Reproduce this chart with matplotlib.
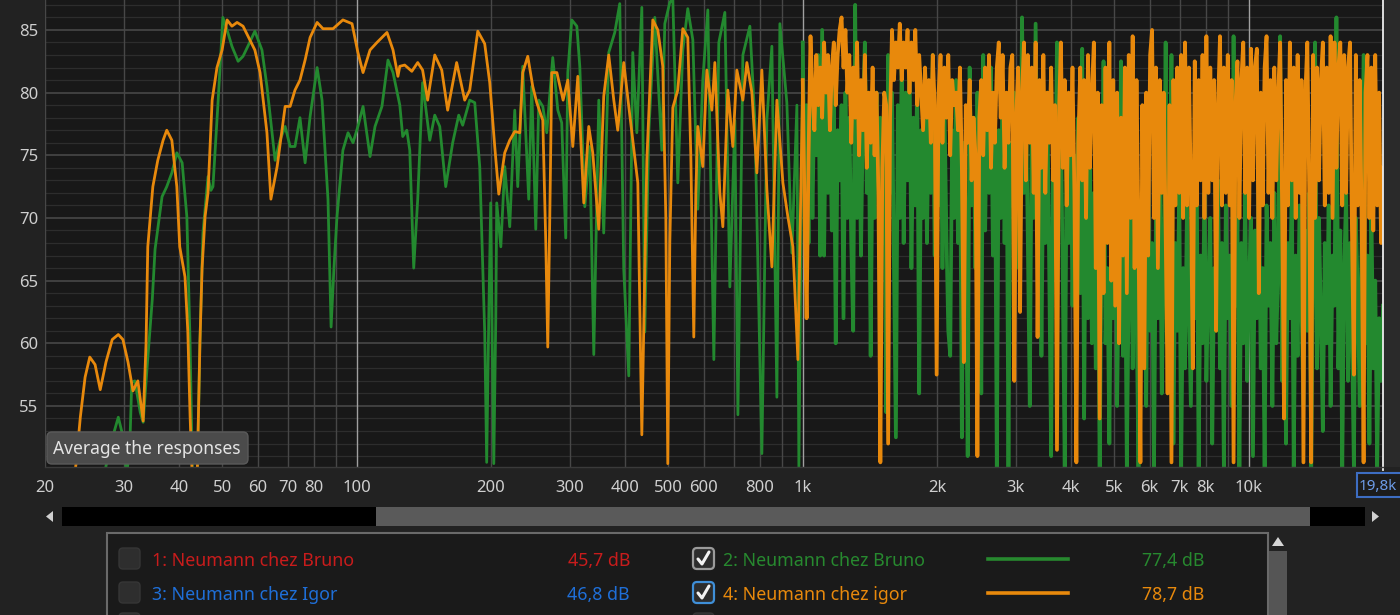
import numpy as np
import matplotlib
matplotlib.use('Agg')
import matplotlib.pyplot as plt
from matplotlib.patches import FancyBboxPatch, Rectangle, Polygon

plt.rcParams['font.family'] = ['Noto Sans', 'DejaVu Sans']

# ---------------- data ----------------
orange_low_freq = [23.0, 23.5, 24.0, 24.6, 25.2, 25.9, 26.6, 27.4, 28.3, 29.2, 29.9, 30.7, 31.5, 32.3, 33.2,
                   33.7, 34.0, 34.9, 35.8, 36.8, 37.5, 38.5, 39.5, 40.1, 41.2, 41.8, 42.3, 42.7, 42.9,
                   43.8, 44.5, 45.0, 45.7, 46.4, 47.4, 48.6, 49.9, 51.2, 52.5, 53.9, 55.6, 57.6, 59.1,
                   60.7, 61.9, 62.9, 64.2, 66.3, 69.1, 70.9, 72.7, 74.6, 76.6, 78.6, 81.5, 84.0, 88.5,
                   93.1, 97.6, 100.6, 103.3, 107.1, 111.0, 116.9, 120.6, 123.7,
                   124.9, 128.1, 132.9, 137.0, 140.5, 144.2, 149.6, 155.1, 159.9, 167.5, 174.6, 179.2,
                   186.8, 193.6, 198.7, 203.9, 208.2, 214.7, 220.3, 226.1, 232.0, 235.6, 241.8, 248.1,
                   253.3, 261.3, 265.4, 268.1, 270.9, 273.7, 281.0, 290.2, 297.3, 305.1, 313.1, 322.9,
                   331.3, 338.2, 348.9, 357.9, 367.3, 377.0, 384.8, 396.9, 407.3, 415.8, 426.8, 435.7,
                   447.1, 461.1, 473.2, 485.5, 493.2, 498.2, 503.4, 511.3, 524.6, 538.4, 552.4, 561.1,
                   569.8, 575.8, 581.7, 596.9, 609.5, 625.5, 635.2, 651.8, 662.0, 679.3, 697.0, 711.6,
                   734.1, 749.4, 769.1, 789.1, 809.7, 830.9, 852.7, 875.0, 902.6, 926.1, 950.4, 975.3]
orange_low_db = [48.0, 50.5, 54.1, 57.3, 58.9, 58.3, 56.3, 58.5, 60.3, 60.7, 60.3, 58.5, 56.2, 57.0, 53.8,
                 60.0, 67.7, 72.5, 74.6, 76.2, 77.0, 76.2, 72.5, 67.7, 65.3, 61.0, 54.2, 50.0, 48.0,
                 48.0, 60.0, 66.0, 70.1, 72.0, 79.4, 82.0, 83.4, 85.8, 85.3, 85.6, 85.3, 84.2, 83.4,
                 81.6, 79.0, 76.8, 71.5, 74.1, 78.9, 78.9, 80.2, 81.0, 82.6, 84.4, 85.6, 85.1, 85.1,
                 85.8, 85.5, 83.2, 81.6, 83.4, 84.0, 84.8, 83.4, 81.3,
                 82.1, 82.2, 81.7, 82.4, 81.8, 79.4, 83.0, 81.8, 78.6, 82.4, 79.4, 80.2,
                 84.9, 83.9, 80.8, 75.7, 71.9, 75.2, 76.2, 76.9, 76.8, 81.6, 82.9, 80.5,
                 79.2, 77.8, 68.0, 59.7, 70.0, 81.6, 81.6, 79.4, 81.0, 75.7, 81.3, 71.2,
                 77.3, 75.2, 69.1, 79.7, 83.0, 79.4, 77.0, 82.4, 78.9, 76.2, 72.8, 52.7,
                 74.6, 85.8, 85.0, 82.1, 70.0, 50.4, 68.0, 78.8, 80.2, 85.1, 84.4, 75.0,
                 60.5, 72.0, 77.3, 74.1, 81.8, 78.6, 82.4, 72.0, 69.3, 80.2, 75.7, 81.8,
                 79.4, 82.4, 80.0, 73.6, 81.8, 72.3, 66.1, 79.4, 72.8, 70.1, 67.7, 58.7]

green_low_freq = [21.1, 26.6, 27.7, 28.4, 29.2, 29.9, 30.5, 31.0, 31.3, 31.8, 32.7, 33.2, 33.9, 34.8, 35.3,
                  35.7, 36.6, 37.5, 38.5, 39.5, 40.6, 41.6, 42.3, 42.9, 43.8, 44.5, 45.2, 46.4, 47.1,
                  47.6, 48.9, 50.1, 51.4, 52.5, 54.2, 55.6, 57.0, 59.1, 61.3, 62.9, 64.6, 65.6, 67.3,
                  69.1, 70.9, 72.7, 74.6, 76.6, 78.6, 81.5, 83.6, 86.2, 87.6, 88.9, 90.3, 93.1, 95.6,
                  98.1, 100.6, 103.3, 107.1, 109.9, 113.9, 117.5, 120.6,
                  124.9, 126.8, 129.5, 131.5, 134.2, 137.0, 140.5, 145.8, 149.6, 153.5, 158.3, 164.1,
                  169.3, 172.8, 179.2, 183.9, 188.7, 193.6, 195.6, 197.7, 199.7, 201.3, 202.9, 205.0,
                  206.0, 210.4, 214.7, 220.3, 226.1, 229.6, 235.6, 243.0, 246.8, 252.0, 256.0, 261.3,
                  266.7, 275.1, 282.4, 288.1, 294.2, 297.3, 303.5, 311.5, 316.3, 321.3, 324.6, 333.0,
                  340.0, 348.9, 357.9, 367.3, 378.9, 388.8, 396.9, 407.3, 415.8, 424.6, 435.7, 442.4,
                  451.6, 465.9, 483.1, 490.6, 503.4, 511.3, 524.6, 538.4, 552.4, 567.0, 581.7, 596.9,
                  612.6, 631.9, 648.4, 668.9, 686.4, 704.3, 715.5, 734.1, 761.1, 781.0, 809.7, 830.9,
                  852.7, 875.0, 888.7, 921.2, 945.5, 970.3, 980.3]
green_low_db = [46.0, 48.0, 51.0, 52.6, 54.1, 52.6, 49.5, 52.0, 56.9, 57.0, 54.5, 53.7, 58.2, 63.5, 67.5,
                68.8, 71.7, 72.5, 73.6, 75.2, 74.4, 70.1, 60.0, 48.0, 48.0, 60.0, 68.8, 73.3, 72.2,
                72.5, 79.4, 86.0, 84.8, 83.7, 82.5, 82.9, 83.7, 84.9, 83.4, 80.5, 76.8, 74.6, 76.2,
                77.3, 75.7, 75.7, 78.0, 74.4, 78.1, 82.0, 79.4, 71.5, 61.3, 66.0, 70.1, 75.4, 76.8,
                76.0, 77.3, 78.9, 74.9, 77.3, 78.9, 82.6, 81.6,
                79.0, 76.5, 77.0, 75.4, 66.0, 71.5, 80.8, 76.2, 78.2, 77.3, 72.5, 76.0,
                78.2, 77.4, 79.4, 79.2, 74.1, 60.9, 50.5, 62.0, 71.2, 60.0, 50.4, 62.0,
                71.2, 67.7, 74.1, 69.3, 78.6, 72.5, 82.1, 71.5, 80.5, 69.1, 79.4, 78.9,
                76.8, 82.8, 78.6, 77.6, 68.4, 81.6, 85.8, 85.3, 82.1, 75.4, 70.9, 75.7,
                59.1, 79.4, 68.8, 83.2, 84.8, 87.1, 65.9, 57.4, 83.2, 76.8, 86.8, 60.9,
                76.8, 86.0, 75.4, 85.5, 87.2, 87.5, 72.8, 83.4, 86.7, 84.2, 70.7, 81.0,
                86.6, 58.7, 84.0, 86.4, 64.5, 77.8, 54.3, 83.0, 85.3, 77.8, 51.2, 77.8,
                83.7, 55.7, 85.5, 79.2, 67.2, 79.0, 50.0]

# dense high-frequency part, on a log-spaced frequency grid 1 kHz .. 20 kHz
hf_freq = np.geomspace(1000, 20000, 300)
orange_hf_db = [
    81, 70, 62, 75, 84.5, 80, 77, 83, 79, 82,
    78, 84, 80, 83, 77, 82, 84, 79, 83, 85,
    86, 82, 85, 80, 83, 76, 82, 78, 84, 75,
    81, 77, 83, 74, 80, 76, 82, 75, 80, 72,
    50.5, 74, 80, 79, 52, 78, 85, 81, 84, 82,
    85.5, 81, 84, 82, 85, 80, 84, 81, 85, 79,
    83, 80, 77, 82, 78, 81, 76, 83, 79, 57.5,
    80, 83, 76, 82, 78, 83, 75, 81, 79, 80,
    77, 82, 74, 58.5, 79, 76, 81, 73, 78, 75,
    51, 78, 81, 75, 82, 77, 83, 74, 80, 76,
    82, 84, 78, 83, 74, 80, 76, 82, 83, 57,
    78, 82, 62.5, 80, 84, 73, 83, 76, 82, 72,
    84, 60.5, 81, 74, 83, 72, 80, 76, 82, 73,
    79, 51.5, 78, 84, 74, 81, 71, 80, 75, 82,
    72, 50.5, 76, 82, 73, 81, 70, 83, 74, 80,
    84, 66, 80, 54, 79, 64, 82, 68, 84, 65,
    81, 63, 80, 60, 78, 67, 82, 64, 83, 70,
    84.5, 66, 81, 69, 50.5, 79, 58, 80, 67, 83,
    85, 70, 82, 66, 81, 72, 80, 69, 56, 79,
    50.5, 81, 71, 82, 72, 83, 70, 84, 71, 82,
    72, 58, 82.5, 71, 81, 73, 83, 70, 84.5, 72,
    82, 73, 81, 61, 79, 84.5, 71, 82, 72, 83,
    71, 81, 50.5, 79, 82.5, 70, 81, 84, 72, 82,
    70, 83.5, 73, 82, 83.5, 64, 80, 71, 82, 84.5,
    72, 81, 70, 82, 73, 80, 84, 71, 54, 81,
    71, 84, 73, 82, 70, 83, 72, 81, 50.5, 80,
    84, 72, 50.5, 83, 70, 82, 73, 81, 84, 71,
    82, 72, 84.5, 70, 84, 74, 82, 84, 71, 83,
    72, 82, 84, 69, 57.5, 83, 71, 81, 70, 50.5,
    80, 83, 70, 82, 69, 83, 71, 80, 68, 74]
green_hf_db = [
    84, 72, 79, 68, 82, 70, 80, 75, 83, 67,
    85, 67, 80, 72, 78, 69, 81, 60, 77, 73,
    79, 62, 80, 70, 78, 68, 61, 87, 70, 80,
    67, 78, 84, 72, 79, 59, 77, 70, 80, 73,
    78, 68, 76, 54.5, 83, 72, 80, 66, 52.5, 79,
    70, 82, 68, 80, 73, 83, 66, 78, 71, 81,
    56, 77, 70, 80, 68, 79, 72, 83, 67, 78,
    71, 80, 66, 79, 69, 61, 59, 77, 70, 81,
    68, 79, 52.5, 76, 70, 51, 82, 71, 78, 66,
    80, 70, 56, 83, 69, 81, 72, 82, 67, 79,
    50, 77, 70, 81, 68, 79, 50, 76, 71, 80,
    66, 79, 69, 86, 72, 80, 68, 55, 78, 70,
    85.5, 71, 79, 59, 76, 68, 80, 66, 51, 77,
    70, 84, 72, 78, 65, 50, 76, 68, 79, 63,
    75, 66, 78, 64, 83.5, 54, 77, 62, 74, 60,
    72, 58, 70, 50, 68, 82.5, 60, 66, 52, 70,
    62, 74, 55, 68, 82.5, 59, 70, 50, 65, 72,
    58, 69, 63, 50, 71, 60, 67, 55, 73, 61,
    68, 50, 70, 62, 74, 56, 66, 84, 60, 69,
    83, 52, 68, 61, 72, 50, 66, 58, 71, 63,
    55, 69, 62, 74, 50, 67, 60, 72, 57, 65,
    70, 52, 66, 61, 73, 58, 68, 50, 71, 62,
    67, 55, 84.5, 63, 70, 50, 68, 60, 72, 57,
    65, 70, 51, 69, 62, 74, 58, 66, 50, 71,
    63, 68, 55, 72, 60, 66, 84.5, 57, 70, 52,
    68, 62, 73, 50, 67, 59, 71, 63, 55, 69,
    61, 72, 50, 66, 84, 58, 70, 62, 53, 68,
    60, 71, 55, 67, 63, 86, 58, 69, 50, 66,
    72, 57, 68, 61, 50, 70, 64, 55, 69, 83,
    60, 67, 52, 71, 58, 65, 50, 62, 57, 63]

x_ticks = [20, 30, 40, 50, 60, 70, 80, 100, 200, 300, 400, 500, 600, 800,
           1000, 2000, 3000, 4000, 5000, 6000, 7000, 8000, 10000]
x_tick_labels = ['20', '30', '40', '50', '60', '70', '80', '100', '200', '300', '400', '500', '600', '800',
                 '1k', '2k', '3k', '4k', '5k', '6k', '7k', '8k', '10k']
y_ticks = [55, 60, 65, 70, 75, 80, 85]

legend_names = ['1: Neumann chez Bruno', '2: Neumann chez Bruno', '3: Neumann chez Igor', '4: Neumann chez igor']
legend_levels = ['45,7 dB', '77,4 dB', '46,8 dB', '78,7 dB']
legend_colors = ['#c81c1c', '#27892f', '#1f6fd8', '#e8890c']
legend_checked = [False, True, False, True]
cursor_label = '19,8k'
tooltip_text = 'Average the responses'

GREEN = '#23892f'
ORANGE = '#e8890c'

# ---------------- figure ----------------
W, H = 1400, 615
fig = plt.figure(figsize=(W / 100, H / 100), dpi=100, facecolor='#222222')

ax = fig.add_axes([45 / W, (H - 467) / H, (1383 - 45) / W, 467 / H], zorder=1)
ax.set_facecolor('#181818')
ax.set_xscale('log')
ax.set_xlim(20, 20000)
ax.set_ylim(50.13, 87.39)

# grid
for db in range(51, 88):
    col = '#4c4c4c' if db % 5 == 0 else '#2d2d2d'
    ax.axhline(db, color=col, lw=1.1 if db % 5 == 0 else 0.9, zorder=0.5)
grid_freqs = [m * d for d in (10, 100, 1000, 10000) for m in range(1, 10) if 20 <= m * d < 20000]
for f in grid_freqs:
    bright = f in (100, 1000, 10000)
    ax.axvline(f, color='#a0a0a0' if bright else '#474747', lw=1.0, zorder=0.6)

# green (drawn first), then orange on top
ax.plot(list(green_low_freq) + [hf_freq[0]], list(green_low_db) + [green_hf_db[0]],
        color=GREEN, lw=2.0, zorder=2, solid_joinstyle='round')
ax.plot(hf_freq, green_hf_db, color=GREEN, lw=2.7, zorder=2, solid_joinstyle='round')
ax.plot(list(orange_low_freq) + [hf_freq[0]], list(orange_low_db) + [orange_hf_db[0]],
        color=ORANGE, lw=2.0, zorder=3, solid_joinstyle='round')
ax.plot(hf_freq, orange_hf_db, color=ORANGE, lw=2.7, zorder=3, solid_joinstyle='round')

ax.set_xticks(x_ticks)
ax.set_xticklabels(x_tick_labels)
ax.set_xticks([], minor=True)
ax.set_yticks(y_ticks)
ax.tick_params(axis='both', length=0, colors='#cfcfcf', labelsize=12)
ax.tick_params(axis='x', pad=9)
ax.tick_params(axis='y', pad=5)
for s in ax.spines.values():
    s.set_visible(False)

# ---------------- UI overlay (pixel coordinates) ----------------
ui = fig.add_axes([0, 0, 1, 1], zorder=5)
ui.set_xlim(0, W)
ui.set_ylim(H, 0)
ui.axis('off')
ui.patch.set_alpha(0)

# right panel and cursor line
ui.add_patch(Rectangle((1384, 0), 16, 467, facecolor='#2a2a2a', edgecolor='none'))
ui.plot([1383, 1383], [0, 470], color='#ececec', lw=1.3)
ui.plot([45, 1383], [467, 467], color='#3a3a3a', lw=1.0)

# tooltip
ui.add_patch(FancyBboxPatch((47, 432), 201, 32, boxstyle='round,pad=0,rounding_size=5',
                            facecolor='#4b4b4b', edgecolor='#5a5a5a', lw=1))
ui.text(53, 449, tooltip_text, color='#e4e4e4', fontsize=12.6, va='center', ha='left')

# cursor value box
ui.add_patch(Rectangle((1357, 473), 50, 24, facecolor='#1c1c1c', edgecolor='#3d6dc2', lw=1.5))
ui.text(1359, 486, cursor_label, color='#6d9ce8', fontsize=11, va='center', ha='left')

# scrollbar
ui.add_patch(Rectangle((62, 507), 1303, 19, facecolor='#000000', edgecolor='none'))
ui.add_patch(Rectangle((376, 507), 934, 19, facecolor='#5a5a5a', edgecolor='none'))
ui.add_patch(Polygon([[46, 516.5], [53, 511], [53, 522]], closed=True, facecolor='#d0d0d0', edgecolor='none'))
ui.add_patch(Polygon([[1379, 516.5], [1372, 511], [1372, 522]], closed=True, facecolor='#d0d0d0', edgecolor='none'))

# legend panel
ui.add_patch(Rectangle((107, 533), 1161, 100, facecolor='#1a1a1a', edgecolor='#6a6a6a', lw=1.5))
ui.add_patch(Rectangle((1269, 551), 18, 80, facecolor='#555555', edgecolor='none'))
ui.add_patch(Polygon([[1278, 537], [1272, 546], [1284, 546]], closed=True, facecolor='#d6d6d6', edgecolor='none'))

row_y = [559, 593]
for i, (name, level, col, chk) in enumerate(zip(legend_names, legend_levels, legend_colors, legend_checked)):
    r = i // 2
    c = i % 2
    y = row_y[r]
    if c == 0:
        bx, tx, lx = 119, 152, 630
    else:
        bx, tx, lx = 693, 723, 1204
    if chk:
        ec = '#3f8fd8' if i == 3 else '#9a9a9a'
        ui.add_patch(FancyBboxPatch((bx, y - 11), 21, 21, boxstyle='round,pad=0,rounding_size=4',
                                    facecolor='#2c2c2c', edgecolor=ec, lw=1.6))
        ui.plot([bx + 5, bx + 9, bx + 16], [y, y + 5, y - 7], color='#f2f2f2', lw=2.2,
                solid_capstyle='round')
        ui.plot([988, 1068], [y, y], color=col, lw=2.6)
    else:
        ui.add_patch(FancyBboxPatch((bx, y - 11), 21, 21, boxstyle='round,pad=0,rounding_size=4',
                                    facecolor='#2e2e2e', edgecolor='#363636', lw=1))
    ui.text(tx, y + 2, name, color=col, fontsize=12.8, va='center', ha='left')
    ui.text(lx, y + 2, level, color=col, fontsize=12.8, va='center', ha='right')

# partially visible third row
for bx in (119, 693):
    ui.add_patch(FancyBboxPatch((bx, 613), 21, 21, boxstyle='round,pad=0,rounding_size=4',
                                facecolor='#2e2e2e', edgecolor='#363636', lw=1))

fig.savefig('out.png', dpi=100, facecolor=fig.get_facecolor())
